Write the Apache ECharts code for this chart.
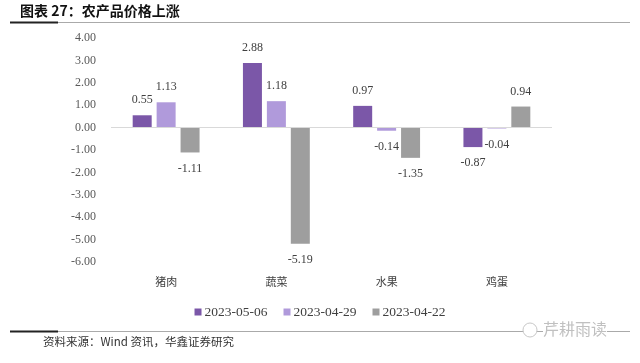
<!DOCTYPE html>
<html>
<head>
<meta charset="utf-8">
<script src="https://cdn.jsdelivr.net/npm/echarts@6/dist/echarts.min.js"></script>
<style>
html,body{margin:0;padding:0;background:#fff;}
#c{width:640px;height:363px;}
</style>
</head>
<body>
<div id="c"></div>
<script>
var categories = ['猪肉', '蔬菜', '水果', '鸡蛋'];
var seriesNames = ['2023-05-06', '2023-04-29', '2023-04-22'];
var s0506 = [0.55, 2.88, 0.97, -0.87];
var s0429 = [1.13, 1.18, -0.14, -0.04];
var s0422 = [-1.11, -5.19, -1.35, 0.94];
var colors = ['#7B57A8', '#B09ADB', '#9E9E9E'];
var titleText = '图表 27：农产品价格上涨';
var sourceText = '资料来源：Wind 资讯，华鑫证券研究';
var watermarkText = '芹耕雨读';

var serif = '"Liberation Serif", "Times New Roman", serif';
var cjk = '"Noto Sans CJK SC", sans-serif';

function mkSeries(name, data, color, idx) {
  var s = {
    name: name,
    type: 'bar',
    barWidth: 19,
    barGap: '26%',
    barCategoryGap: '39%',
    itemStyle: { color: color },
    label: {
      show: true,
      formatter: function (p) { return p.value.toFixed(2); },
      fontFamily: serif,
      fontSize: 12,
      color: '#404040',
      position: 'top',
      distance: 9
    }
  };
  s.data = data.map(function (v) {
    return {
      value: v,
      label: { position: v < 0 ? 'bottom' : 'top', distance: v < 0 ? 10 : 9 }
    };
  });
  if (idx === 0) {
    s.markLine = {
      silent: true,
      symbol: 'none',
      label: { show: false },
      lineStyle: { color: '#d9d9d9', type: 'solid', width: 1 },
      data: [{ yAxis: 0 }]
    };
  }
  return s;
}

var chart = echarts.init(document.getElementById('c'), null, { renderer: 'canvas' });
chart.setOption({
  animation: false,
  backgroundColor: '#fff',
  grid: { left: 111, right: 88, top: 38, bottom: 101 },
  legend: {
    data: seriesNames,
    left: 'center',
    top: 305,
    padding: 0,
    itemWidth: 7,
    itemHeight: 7,
    itemGap: 16,
    icon: 'rect',
    textStyle: { fontFamily: serif, fontSize: 13.5, color: '#404040', padding: [0, 0, 0, -2] }
  },
  xAxis: {
    type: 'category',
    data: categories,
    axisLine: { show: false, onZero: false },
    axisTick: { show: false },
    axisLabel: { fontFamily: cjk, fontSize: 11, color: '#404040', margin: 14 }
  },
  yAxis: {
    type: 'value',
    min: -6,
    max: 4,
    interval: 1,
    axisLine: { show: false },
    axisTick: { show: false },
    splitLine: { show: false },
    axisLabel: {
      margin: 15,
      fontFamily: serif,
      fontSize: 12,
      color: '#595959',
      formatter: function (v) { return v.toFixed(2); }
    }
  },
  series: [
    mkSeries(seriesNames[0], s0506, colors[0], 0),
    mkSeries(seriesNames[1], s0429, colors[1], 1),
    mkSeries(seriesNames[2], s0422, colors[2], 2)
  ],
  graphic: [
    { type: 'text', left: 20, top: 4, style: { text: titleText, font: 'bold 14px "Noto Sans CJK SC", sans-serif', fill: '#111' } },
    { type: 'line', shape: { x1: 10, y1: 22.5, x2: 630, y2: 22.5 }, style: { stroke: '#aaaaaa', lineWidth: 1 } },
    { type: 'line', shape: { x1: 10, y1: 22.5, x2: 58, y2: 22.5 }, style: { stroke: '#222', lineWidth: 2 } },
    { type: 'line', shape: { x1: 10, y1: 331.5, x2: 630, y2: 331.5 }, style: { stroke: '#aaaaaa', lineWidth: 1 } },
    { type: 'line', shape: { x1: 10, y1: 331.5, x2: 58, y2: 331.5 }, style: { stroke: '#222', lineWidth: 2 } },
    { type: 'text', left: 43, top: 336, style: { text: sourceText, font: '11.5px "Noto Sans CJK SC", sans-serif', fill: '#333' } },
    { type: 'circle', shape: { cx: 530, cy: 330, r: 7 }, style: { fill: '#fff', stroke: '#c8c8c8', lineWidth: 1 } },
    { type: 'text', left: 543, top: 321, style: { text: watermarkText, font: '16px "Noto Sans CJK SC", sans-serif', fill: '#c0c0c0', backgroundColor: '#fff' } }
  ]
});
</script>
</body>
</html>
